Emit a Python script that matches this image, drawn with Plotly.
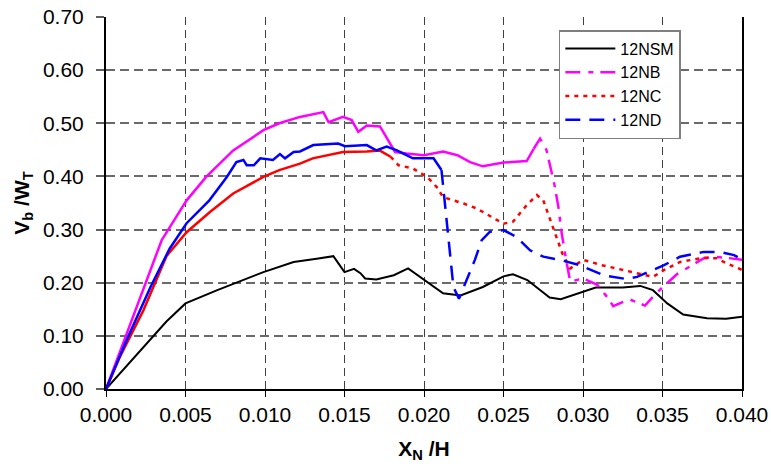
import plotly.graph_objects as go

# ---------------- data ----------------
nsm_x = [0, 0.0025, 0.0038, 0.005, 0.0070, 0.0099, 0.0118, 0.01325, 0.0143, 0.0150, 0.0156, 0.0160,
         0.0163, 0.0170, 0.0181, 0.0190, 0.0200, 0.0212, 0.0223, 0.0237, 0.0250, 0.0256, 0.0265,
         0.0279, 0.0286, 0.0300, 0.0308, 0.0325, 0.0336, 0.0344, 0.0353, 0.0363, 0.0378, 0.0390, 0.0400]
nsm_y = [0, 0.083, 0.127, 0.161, 0.186, 0.220, 0.239, 0.245, 0.250, 0.220, 0.226, 0.218,
         0.208, 0.206, 0.214, 0.227, 0.205, 0.180, 0.176, 0.192, 0.212, 0.216, 0.205,
         0.172, 0.169, 0.183, 0.191, 0.191, 0.194, 0.186, 0.161, 0.140, 0.133, 0.132, 0.136]

nb_x = [0, 0.0012, 0.00235, 0.0035, 0.00507, 0.0063, 0.0080, 0.0099, 0.0109, 0.0122, 0.01367,
        0.0140, 0.0149, 0.01545, 0.01587, 0.0164, 0.01723, 0.01776, 0.01818, 0.0189, 0.0200,
        0.0212, 0.0221, 0.0229, 0.0237, 0.0250, 0.0260, 0.02646, 0.0269,
        0.0273, 0.0277, 0.0282, 0.02845, 0.02866, 0.02898, 0.0292, 0.0300, 0.0309, 0.0316,
        0.0319, 0.0329, 0.0339, 0.0346, 0.0359, 0.0376, 0.0382, 0.0390, 0.0400]
nb_y = [0, 0.096, 0.186, 0.280, 0.355, 0.399, 0.449, 0.487, 0.500, 0.512, 0.521,
        0.502, 0.512, 0.506, 0.484, 0.496, 0.494, 0.468, 0.446, 0.443, 0.440,
        0.447, 0.440, 0.427, 0.419, 0.426, 0.429, 0.429, 0.452,
        0.471, 0.450, 0.385, 0.343, 0.293, 0.236, 0.202, 0.208, 0.196, 0.170,
        0.156, 0.169, 0.157, 0.180, 0.216, 0.246, 0.249, 0.247, 0.243]

nc_x = [0, 0.00088, 0.00235, 0.0038, 0.00507, 0.0065, 0.0080, 0.0099, 0.0109, 0.0122, 0.0130,
        0.0149, 0.0164, 0.0172, 0.0179,
        0.0184, 0.0193, 0.0202, 0.0208, 0.0212, 0.0225, 0.0233, 0.0250, 0.0256, 0.02646, 0.0271,
        0.0275, 0.0281, 0.0287, 0.0292, 0.0300, 0.0312, 0.0325, 0.0334, 0.0344, 0.0351, 0.0361,
        0.0376, 0.0384, 0.0390, 0.0400]
nc_y = [0, 0.061, 0.148, 0.250, 0.295, 0.332, 0.368, 0.399, 0.412, 0.424, 0.434,
        0.446, 0.447, 0.449, 0.437,
        0.421, 0.415, 0.399, 0.380, 0.361, 0.349, 0.340, 0.311, 0.315, 0.346, 0.365,
        0.355, 0.305, 0.255, 0.227, 0.243, 0.233, 0.224, 0.217, 0.211, 0.224, 0.239,
        0.247, 0.246, 0.237, 0.224]

nd_x = [0, 0.0013, 0.0028, 0.0040, 0.00507, 0.0065, 0.0076, 0.0082, 0.00864, 0.00885, 0.0093,
        0.0097, 0.0105, 0.01094, 0.01126, 0.0118, 0.0122, 0.01304, 0.0146, 0.01503, 0.0164,
        0.0170, 0.01765, 0.0183, 0.0189, 0.0193, 0.0206, 0.0211,
        0.0213, 0.02153, 0.02185, 0.0222, 0.02269, 0.0232, 0.02363, 0.02415, 0.0250, 0.02583,
        0.02667, 0.0275, 0.02855, 0.0298, 0.0313, 0.0327, 0.0334, 0.0342, 0.0351, 0.0361,
        0.0376, 0.0386, 0.0395, 0.0400]
nd_y = [0, 0.092, 0.192, 0.264, 0.312, 0.355, 0.399, 0.427, 0.431, 0.421, 0.421,
        0.434, 0.431, 0.442, 0.434, 0.446, 0.447, 0.459, 0.462, 0.457, 0.459,
        0.449, 0.456, 0.449, 0.440, 0.434, 0.434, 0.412,
        0.355, 0.280, 0.192, 0.170, 0.205, 0.243, 0.280, 0.296, 0.299, 0.286,
        0.261, 0.249, 0.243, 0.233, 0.214, 0.207, 0.211, 0.222, 0.233, 0.249,
        0.258, 0.258, 0.252, 0.244]

x_ticks = [0.000, 0.005, 0.010, 0.015, 0.020, 0.025, 0.030, 0.035, 0.040]
y_ticks = [0.00, 0.10, 0.20, 0.30, 0.40, 0.50, 0.60, 0.70]

# end of the densely sampled (solid-looking) part of each test curve
nb_dense_end = 0.0269
nc_dense_end = 0.0179
nd_dense_end = 0.0211

FONT = "Liberation Sans, Arial, sans-serif"

fig = go.Figure()


def add_series(name, xs, ys, color, width, dash, dense_end=None):
    if dense_end is not None:
        dx = [x for x in xs if x <= dense_end]
        dy = [y for x, y in zip(xs, ys) if x <= dense_end]
        sx = [x for x in xs if x >= dense_end]
        sy = [y for x, y in zip(xs, ys) if x >= dense_end]
        fig.add_trace(go.Scatter(x=dx, y=dy, mode="lines", name=name, legendgroup=name,
                                 showlegend=False, line=dict(color=color, width=width)))
        fig.add_trace(go.Scatter(x=sx, y=sy, mode="lines", name=name, legendgroup=name,
                                 line=dict(color=color, width=width, dash=dash)))
    else:
        fig.add_trace(go.Scatter(x=xs, y=ys, mode="lines", name=name,
                                 line=dict(color=color, width=width, dash=dash)))


add_series("12NSM", nsm_x, nsm_y, "#000000", 2, "solid")
add_series("12NB", nb_x, nb_y, "#FF00FF", 2.5, "15px,8px,5px,7px", nb_dense_end)
add_series("12NC", nc_x, nc_y, "#FF0000", 2.5, "4px,5px", nc_dense_end)
add_series("12ND", nd_x, nd_y, "#0000FF", 2.5, "15px,9px", nd_dense_end)

fig.update_layout(
    width=771, height=466,
    margin=dict(l=106, r=29, t=17, b=77, autoexpand=False),
    paper_bgcolor="white", plot_bgcolor="white",
    font=dict(family=FONT, size=20, color="black"),
    showlegend=True, hovermode=False,
    legend=dict(x=0.712, y=0.965, xanchor="left", yanchor="top",
                bgcolor="white", bordercolor="#7f7f7f", borderwidth=1.5,
                font=dict(family=FONT, size=16, color="black"),
                itemwidth=50, tracegroupgap=0),
)

fig.update_xaxes(
    range=[0, 0.040], tickvals=x_ticks, ticktext=[f"{v:.3f}" for v in x_ticks],
    showline=True, linecolor="black", linewidth=2, mirror=False,
    ticks="outside", ticklen=6, tickcolor="black", tickwidth=1,
    showgrid=True, gridcolor="#404040", gridwidth=1, griddash="8px,5px",
    zeroline=False, automargin=False,
    tickfont=dict(family=FONT, size=21, color="black"),
    title=dict(text="<b>X<sub>N</sub> /H</b>", font=dict(family=FONT, size=21, color="black"),
               standoff=16),
)
fig.update_yaxes(
    range=[0, 0.70], tickvals=y_ticks, ticktext=[f"{v:.2f}" for v in y_ticks],
    showline=True, linecolor="black", linewidth=2, mirror=True,
    ticks="outside", ticklen=8, tickcolor="#606060", tickwidth=1.5,
    ticklabelstandoff=8,
    showgrid=True, gridcolor="#6a6a6a", gridwidth=1.5, griddash="9px,5px",
    zeroline=False, automargin=False,
    tickfont=dict(family=FONT, size=21, color="black"),
    title=dict(text="<b>V<sub>b</sub> /W<sub>T</sub></b>", font=dict(family=FONT, size=21, color="black"),
               standoff=8),
)

fig.write_html("out.html",
               config={"displayModeBar": False, "displaylogo": False},
               post_script="document.body.style.margin='0';document.body.style.padding='0';")
